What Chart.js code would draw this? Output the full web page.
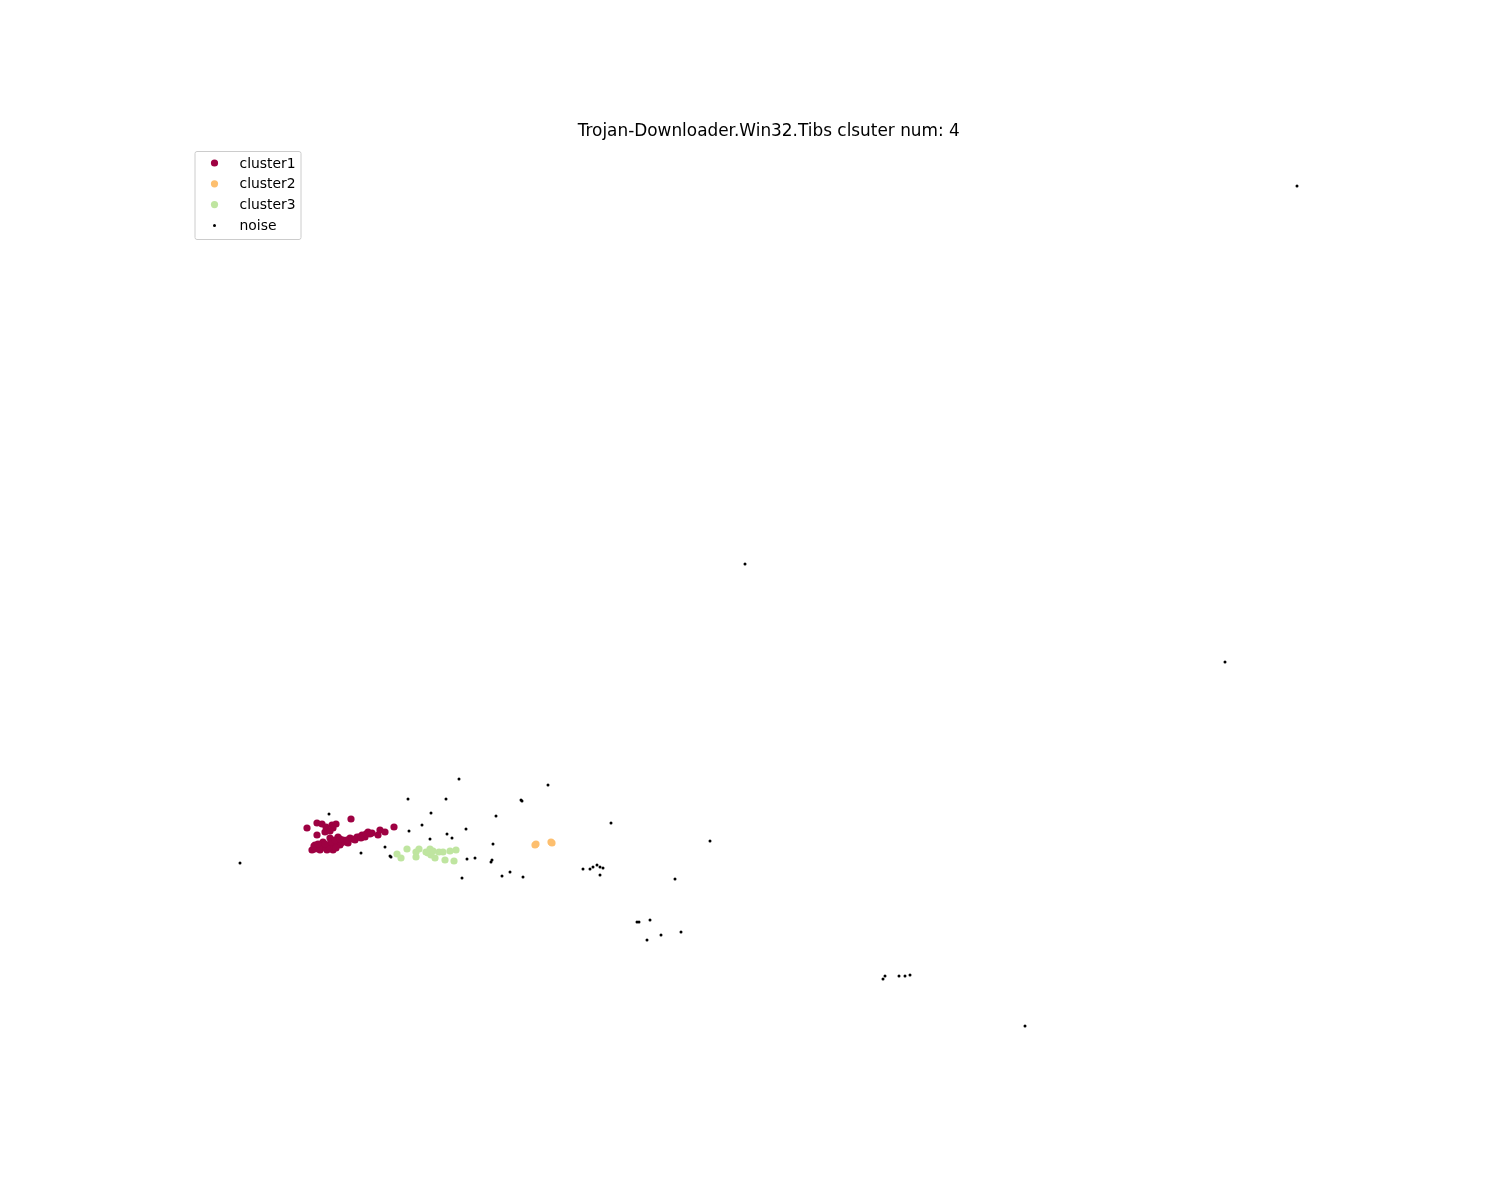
<!DOCTYPE html>
<html>
<head>
<meta charset="utf-8">
<script src="https://cdn.jsdelivr.net/npm/chart.js@4/dist/chart.umd.min.js"></script>
<style>
    html, body { margin: 0; padding: 0; background: #ffffff; }
    #wrap { width: 1500px; height: 1200px; }
</style>
</head>
<body>
<div id="wrap"><canvas id="chart" width="1500" height="1200"></canvas></div>
<script>
// Embedding coordinates (arbitrary units)
const cluster1 = [
    [-39.3, -12.8], [-34.9, -11.9], [-30.6, -12.7], [-38.3, -12.3], [-37.8, -12.4],
    [-36.8, -12.5], [-36.4, -12.4], [-38.3, -13.5], [-37.5, -13.2], [-36.7, -12.8],
    [-32.0, -13.0], [-32.2, -13.5], [-31.5, -13.2], [-38.8, -15.0], [-38.3, -14.7],
    [-37.7, -14.7], [-37.0, -14.5], [-36.3, -14.2], [-35.7, -14.0], [-35.0, -13.8],
    [-34.3, -13.7], [-33.8, -13.5], [-33.2, -13.2], [-33.5, -13.7], [-37.3, -15.0],
    [-38.0, -15.0], [-36.0, -14.5], [-36.7, -15.0], [-35.2, -14.3], [-32.8, -13.3],
    [-37.7, -14.2], [-37.0, -13.8], [-36.2, -13.7], [-38.5, -14.5],
    [-38.5, -14.9], [-38.1, -14.8], [-37.4, -14.8], [-37.1, -14.7], [-36.6, -14.6],
    [-36.4, -14.8], [-35.9, -14.3], [-35.5, -14.2], [-35.3, -14.0], [-34.8, -13.9],
    [-34.5, -14.0], [-34.1, -13.7], [-33.9, -13.8], [-33.4, -13.4], [-33.0, -13.4],
    [-38.6, -14.6], [-38.2, -14.4], [-37.5, -14.4], [-36.9, -14.2], [-36.5, -14.0],
    [-36.0, -13.9], [-37.4, -12.7], [-37.0, -13.1]
];
const cluster2 = [
    [-16.4, -14.4], [-16.5, -14.5], [-14.8, -14.3], [-14.9, -14.2]
];
const cluster3 = [
    [-30.3, -15.4], [-29.9, -15.8], [-29.3, -14.9], [-28.4, -15.2], [-28.4, -15.7],
    [-28.1, -14.9], [-27.4, -15.2], [-27.2, -15.3], [-27.0, -14.9], [-26.9, -15.5],
    [-26.7, -15.1], [-26.5, -15.8], [-26.1, -15.2], [-25.7, -15.2], [-25.5, -16.0],
    [-25.0, -15.1], [-24.6, -16.1], [-24.4, -15.0]
];
const noise = [
    [59.7, 51.4], [4.5, 13.6], [52.5, 3.8], [-46.0, -16.3], [32.5, -32.6],
    [-24.1, -7.9], [-15.2, -8.5], [-29.2, -9.9], [-25.4, -9.9], [-17.9, -10.0],
    [-17.8, -10.1], [-37.1, -11.4], [-26.9, -11.3], [-20.4, -11.6], [-8.9, -12.3],
    [1.0, -14.1], [-27.8, -12.5], [-23.4, -12.9], [-29.1, -13.1], [-25.3, -13.4],
    [-24.8, -13.8], [-27.0, -13.9], [-20.7, -14.4], [-31.5, -14.7], [-33.9, -15.3],
    [-31.0, -15.6], [-30.9, -15.7], [-23.3, -15.9], [-22.5, -15.8], [-20.8, -16.0],
    [-20.9, -16.2], [-23.8, -17.8], [-19.8, -17.6], [-19.0, -17.2], [-17.7, -17.7],
    [-11.7, -16.9], [-11.0, -16.9], [-10.7, -16.7], [-10.3, -16.5], [-10.0, -16.7],
    [-9.7, -16.8], [-10.0, -17.5], [-2.5, -17.9], [-6.3, -22.2], [-6.1, -22.2],
    [-5.0, -22.0], [-1.9, -23.2], [-3.9, -23.5], [-5.3, -24.0], [18.3, -27.9],
    [18.5, -27.6], [19.9, -27.6], [20.5, -27.6], [21.0, -27.5]
];

const seriesNames = ['cluster1', 'cluster2', 'cluster3', 'noise'];
const seriesData = [cluster1, cluster2, cluster3, noise];
const seriesColors = ['#9e0142', '#fdbf6f', '#bfe5a0', '#000000'];
const seriesRadius = [3.6, 3.6, 3.6, 1.5];

const chartTitle = 'Trojan-Downloader.Win32.Tibs clsuter num: 4';
const xRange = [-51.25, 65.0];
const yRange = [-36.8, 55.6];

const FONT = '"DejaVu Sans", sans-serif';

// title above the (hidden) axes
const titlePlugin = {
    id: 'mplTitle',
    afterDraw(chart) {
        const ctx = chart.ctx;
        const area = chart.chartArea;
        ctx.save();
        ctx.fillStyle = '#000';
        ctx.font = '16.9px ' + FONT;
        ctx.textAlign = 'center';
        ctx.textBaseline = 'alphabetic';
        ctx.fillText(chartTitle, (area.left + area.right) / 2, area.top - 8);
        ctx.restore();
    }
};

// matplotlib-style legend box in the upper left corner
const legendPlugin = {
    id: 'mplLegend',
    afterDraw(chart) {
        const ctx = chart.ctx;
        const area = chart.chartArea;
        const x0 = area.left + 7, y0 = area.top + 7;
        const w = 106, h = 88, rowH = 20.8;
        ctx.save();
        ctx.fillStyle = 'rgba(255,255,255,0.8)';
        ctx.strokeStyle = '#cccccc';
        ctx.lineWidth = 1;
        ctx.beginPath();
        ctx.roundRect(x0 + 0.5, y0 + 0.5, w, h, 2);
        ctx.fill();
        ctx.stroke();
        ctx.font = '13.9px ' + FONT;
        ctx.textBaseline = 'middle';
        chart.data.datasets.forEach((ds, i) => {
            const cy = y0 + 12 + i * rowH;
            ctx.fillStyle = ds.backgroundColor;
            ctx.beginPath();
            ctx.arc(x0 + 20, cy, ds.pointRadius, 0, Math.PI * 2);
            ctx.fill();
            ctx.fillStyle = '#000';
            ctx.fillText(ds.label, x0 + 45, cy + 1);
        });
        ctx.restore();
    }
};

const datasets = seriesNames.map((name, i) => ({
    label: name,
    data: seriesData[i].map(p => ({ x: p[0], y: p[1] })),
    backgroundColor: seriesColors[i],
    borderColor: seriesColors[i],
    borderWidth: 0,
    pointRadius: seriesRadius[i],
    pointHoverRadius: seriesRadius[i]
}));

new Chart(document.getElementById('chart').getContext('2d'), {
    type: 'scatter',
    data: { datasets: datasets },
    options: {
        responsive: false,
        animation: false,
        events: [],
        layout: {
            padding: { left: 187.5, right: 150, top: 144, bottom: 132 }
        },
        plugins: {
            legend: { display: false },
            tooltip: { enabled: false },
            title: { display: false }
        },
        scales: {
            x: { type: 'linear', display: false, min: xRange[0], max: xRange[1] },
            y: { type: 'linear', display: false, min: yRange[0], max: yRange[1] }
        }
    },
    plugins: [titlePlugin, legendPlugin]
});
</script>
</body>
</html>
